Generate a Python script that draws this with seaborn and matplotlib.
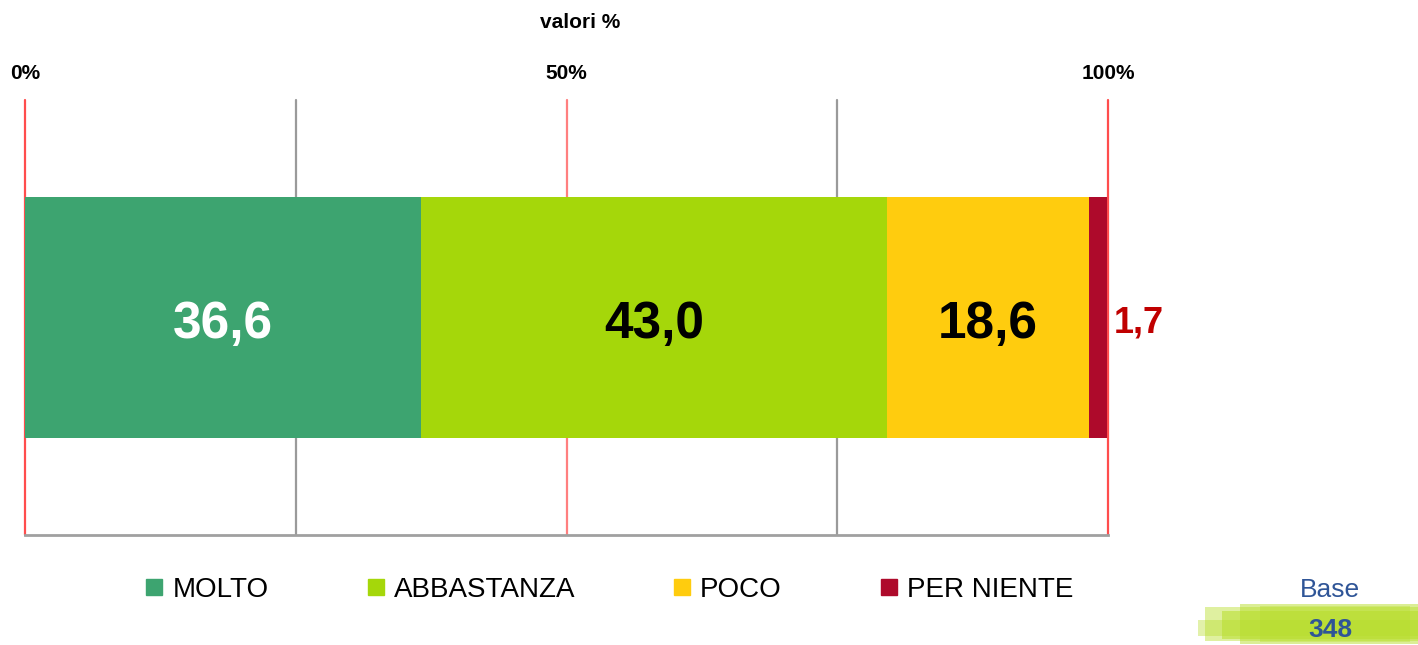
import matplotlib
matplotlib.use("Agg")
import matplotlib.pyplot as plt
import seaborn as sns
import numpy as np
from matplotlib.lines import Line2D
from matplotlib.patches import Rectangle

categories = ["MOLTO", "ABBASTANZA", "POCO", "PER NIENTE"]
values = [36.6, 43.0, 18.6, 1.7]
colors = ["#3DA470", "#A5D70A", "#FFCC0E", "#AE0A2B"]
label_colors = ["white", "black", "black", "#C00000"]
tick_pos = [0, 50, 100]
tick_labels = ["0%", "50%", "100%"]
grid_pos = [0, 25, 50, 75, 100]
grid_colors = ["#FF4D4D", "#9A9A9A", "#FF7F7F", "#9A9A9A", "#FF4D4D"]
base_n = 348

sns.set_style("white")
plt.rcParams["font.family"] = ["Liberation Sans", "DejaVu Sans"]
plt.rcParams["text.color"] = "black"
plt.rcParams["xtick.color"] = "black"

fig = plt.figure(figsize=(14.18, 6.45), dpi=100)
ax = fig.add_axes([25 / 1418, 1 - 535 / 645, 1083 / 1418, 435 / 645])

# grid lines behind the bar
for gx, gc in zip(grid_pos, grid_colors):
    ax.axvline(gx, color=gc, lw=1.6, zorder=0, clip_on=False)

# stacked bar: draw cumulative totals from longest to shortest
cum = np.cumsum(values)
for i in reversed(range(len(values))):
    sns.barplot(x=[cum[i]], y=["q"], color=colors[i], orient="h",
                width=0.554, saturation=1, linewidth=0, ax=ax, zorder=2)

for i, v in enumerate(values):
    txt = f"{v:.1f}".replace(".", ",")
    if v < 5:
        ax.text(cum[i] + 0.6, 0.012, txt, ha="left", va="center",
                fontsize=26, fontweight="bold", color=label_colors[i], zorder=4)
    else:
        ax.text(cum[i] - v / 2, 0.016, txt, ha="center", va="center",
                fontsize=37, fontweight="bold", color=label_colors[i], zorder=4)

ax.set_xlim(0, 100)
ax.set_ylim(0.5, -0.5)
ax.set_ylabel("")
ax.set_yticks([])
ax.xaxis.tick_top()
ax.set_xticks(tick_pos)
ax.set_xticklabels(tick_labels, fontsize=15, fontweight="bold")
ax.tick_params(axis="x", length=0, pad=12, colors="black")
ax.set_xlabel("")
for s in ["left", "right", "top"]:
    ax.spines[s].set_visible(False)
ax.spines["bottom"].set_color("#A0A0A0")
ax.spines["bottom"].set_linewidth(2)
ax.spines["bottom"].set_zorder(3)

fig.text(580 / 1418, 1 - 23 / 645, "valori %", ha="center", va="center",
         fontsize=15, fontweight="bold", color="black")

handles = [Line2D([], [], marker="s", linestyle="", markersize=12,
                  markerfacecolor=c, markeredgecolor=c) for c in colors]
leg = fig.legend(handles, categories, loc="center", ncol=4,
                 bbox_to_anchor=(609 / 1418, 1 - 590 / 645), frameon=False,
                 fontsize=20, handlelength=0.7, handletextpad=0.3,
                 columnspacing=3.5)
for t in leg.get_texts():
    t.set_color("black")

# brush stroke behind the base count
strokes = [(1205, 607, 213, 34, 0.45), (1222, 611, 196, 28, 0.55),
           (1198, 620, 220, 16, 0.4), (1240, 604, 178, 40, 0.5),
           (1260, 606, 150, 36, 0.35)]
for x0, y0, w, h, a in strokes:
    fig.patches.append(Rectangle((x0 / 1418, 1 - (y0 + h) / 645), w / 1418, h / 645,
                                 transform=fig.transFigure, color="#B8DE2C",
                                 alpha=a, lw=0, zorder=0))

fig.text(1330 / 1418, 1 - 590 / 645, "Base", ha="center", va="center",
         fontsize=19, color="#2F5597")
fig.text(1330 / 1418, 1 - 630 / 645, str(base_n), ha="center", va="center",
         fontsize=19, fontweight="bold", color="#2F5597")

fig.savefig("out.png", dpi=100)
